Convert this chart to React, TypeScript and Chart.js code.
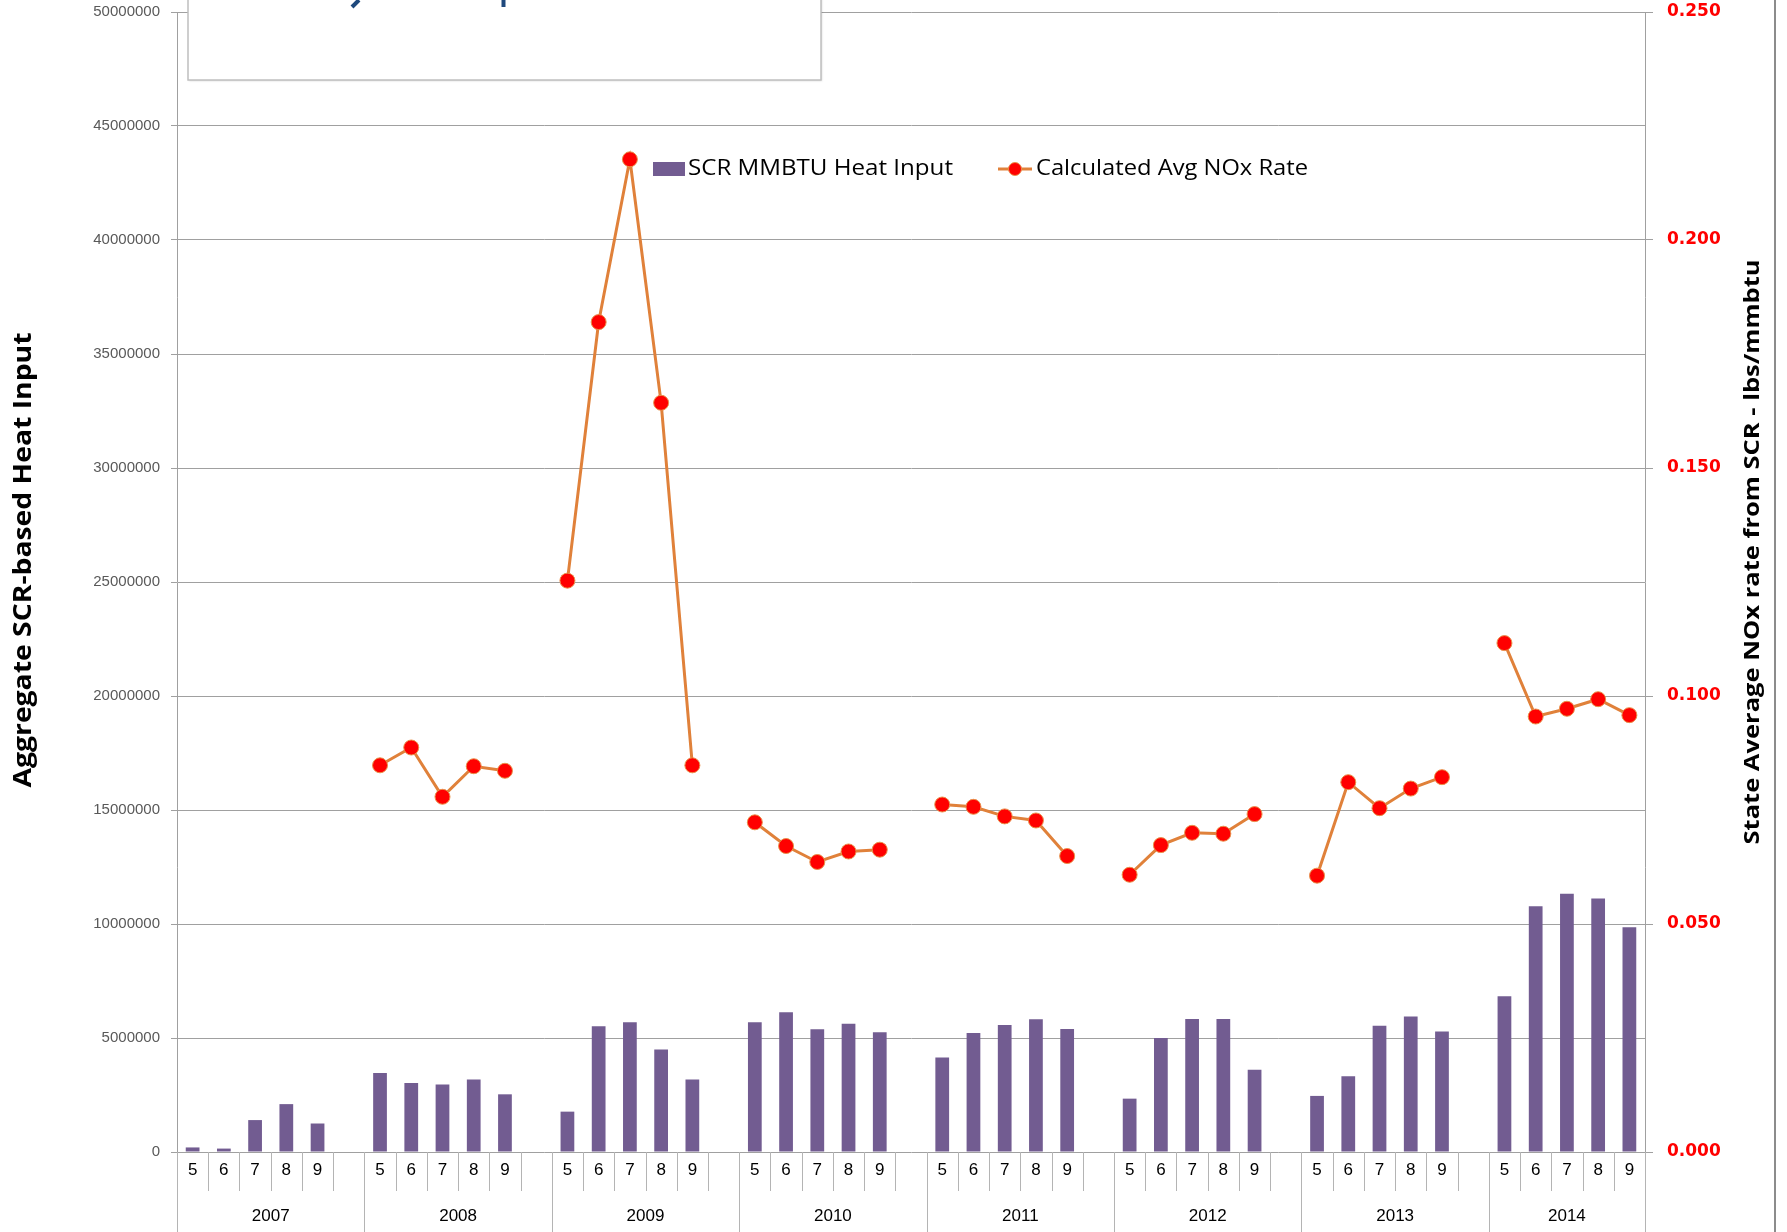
import React, { useEffect, useRef } from "react";
import { Chart, registerables } from "chart.js";

Chart.register(...registerables);

const years = ["2007", "2008", "2009", "2010", "2011", "2012", "2013", "2014"];
const months = ["5", "6", "7", "8", "9"];

const heatInput2007 = [200000, 150000, 1400000, 2100000, 1250000];
const heatInput2008 = [3460000, 3030000, 2960000, 3180000, 2530000];
const heatInput2009 = [1770000, 5510000, 5690000, 4500000, 3180000];
const heatInput2010 = [5690000, 6130000, 5380000, 5620000, 5250000];
const heatInput2011 = [4140000, 5220000, 5570000, 5820000, 5390000];
const heatInput2012 = [2340000, 5000000, 5830000, 5830000, 3610000];
const heatInput2013 = [2460000, 3320000, 5540000, 5940000, 5290000];
const heatInput2014 = [6830000, 10780000, 11330000, 11120000, 9860000];

const nox2007 = [null, null, null, null, null];
const nox2008 = [0.0848, 0.0887, 0.0779, 0.0846, 0.0836];
const nox2009 = [0.1253, 0.182, 0.2177, 0.1643, 0.0848];
const nox2010 = [0.0723, 0.0671, 0.0636, 0.0659, 0.0663];
const nox2011 = [0.0762, 0.0757, 0.0736, 0.0727, 0.0649];
const nox2012 = [0.0608, 0.0673, 0.07, 0.0698, 0.0741];
const nox2013 = [0.0606, 0.0811, 0.0754, 0.0797, 0.0822];
const nox2014 = [0.1116, 0.0955, 0.0972, 0.0993, 0.0958];

const heatByYear = [heatInput2007, heatInput2008, heatInput2009, heatInput2010, heatInput2011, heatInput2012, heatInput2013, heatInput2014];
const noxByYear = [nox2007, nox2008, nox2009, nox2010, nox2011, nox2012, nox2013, nox2014];

const leftTicks = { min: 0, max: 50000000, step: 5000000 };
const rightTicks = { min: 0, max: 0.25, step: 0.05 };

const heatLabel = "SCR MMBTU Heat Input";
const noxLabel = "Calculated Avg NOx Rate";
const leftTitle = "Aggregate SCR-based Heat Input";
const rightTitle = "State Average NOx rate from SCR - lbs/mmbtu";

// Build flat category list: each year = 5 months + 1 blank slot (except last year)
const slotMonth: string[] = [];
const slotYear: number[] = [];
const heatData: (number | null)[] = [];
const noxData: (number | null)[] = [];
years.forEach((y, yi) => {
  months.forEach((m, mi) => {
    slotMonth.push(m);
    slotYear.push(yi);
    heatData.push(heatByYear[yi][mi]);
    noxData.push(noxByYear[yi][mi]);
  });
  if (yi < years.length - 1) {
    slotMonth.push("");
    slotYear.push(yi);
    heatData.push(null);
    noxData.push(null);
  }
});
const labels = slotMonth.map((m, i) => years[slotYear[i]] + "-" + (m || "x") + "-" + i);

const W = 1787;
const H = 1232;

function fitText(ctx: CanvasRenderingContext2D, text: string, x: number, y: number, targetW: number, font: string, color: string, rotate: number) {
  ctx.save();
  ctx.font = font;
  ctx.fillStyle = color;
  ctx.textBaseline = "middle";
  ctx.textAlign = "left";
  const w = ctx.measureText(text).width;
  const s = targetW / w;
  ctx.translate(x, y);
  if (rotate) ctx.rotate(rotate);
  ctx.scale(s, 1);
  ctx.fillText(text, 0, 0);
  ctx.restore();
}

const customPlugin = {
  id: "customDecor",
  afterDraw(chart: any) {
    const ctx: CanvasRenderingContext2D = chart.ctx;
    const area = chart.chartArea;
    const xs = chart.scales.x;
    const n = labels.length;
    const sw = (area.right - area.left) / n;

    ctx.save();
    // category separators
    ctx.strokeStyle = "#B4B4B4";
    ctx.lineWidth = 1;
    for (let k = 0; k <= n; k++) {
      const bx = Math.round(area.left + k * sw) + 0.5;
      const isYear = k === n || k % 6 === 0;
      ctx.beginPath();
      ctx.moveTo(bx, area.bottom);
      ctx.lineTo(bx, isYear ? H : area.bottom + 39);
      ctx.stroke();
    }
    // month labels
    ctx.fillStyle = "#000000";
    ctx.font = "17px 'Liberation Sans', Arial, sans-serif";
    ctx.textAlign = "center";
    ctx.textBaseline = "middle";
    for (let i = 0; i < n; i++) {
      if (!slotMonth[i]) continue;
      ctx.fillText(slotMonth[i], xs.getPixelForValue(i), area.bottom + 18);
    }
    // year labels
    years.forEach((y, yi) => {
      const start = yi * 6;
      const end = Math.min(start + 6, n);
      const cx = area.left + ((start + end) / 2) * sw;
      ctx.fillText(y, cx, area.bottom + 64);
    });

    // outer right border of picture
    ctx.strokeStyle = "#8C8C8C";
    ctx.lineWidth = 2;
    ctx.beginPath();
    ctx.moveTo(1775, 0);
    ctx.lineTo(1775, H);
    ctx.stroke();

    // title box (title cut off at top)
    ctx.fillStyle = "#FFFFFF";
    ctx.shadowColor = "rgba(0,0,0,0.15)";
    ctx.shadowBlur = 2;
    ctx.shadowOffsetX = 1;
    ctx.shadowOffsetY = 1;
    ctx.fillRect(188, -4, 633, 84);
    ctx.shadowColor = "transparent";
    ctx.strokeStyle = "#BFBFBF";
    ctx.lineWidth = 1.5;
    ctx.strokeRect(188, -4, 633, 84);
    // descender fragments of the clipped title
    ctx.strokeStyle = "#1F497D";
    ctx.lineWidth = 4;
    ctx.beginPath();
    ctx.moveTo(359, 0);
    ctx.lineTo(352, 7);
    ctx.stroke();
    ctx.beginPath();
    ctx.moveTo(503.5, 0);
    ctx.lineTo(503.5, 7);
    ctx.stroke();

    // legend
    ctx.fillStyle = "#725C91";
    ctx.fillRect(653, 162, 32, 14);
    fitText(ctx, heatLabel, 688, 169, 265, "22px 'Open Sans', sans-serif", "#000000", 0);
    ctx.strokeStyle = "#E0813A";
    ctx.lineWidth = 3;
    ctx.beginPath();
    ctx.moveTo(998, 169);
    ctx.lineTo(1032, 169);
    ctx.stroke();
    ctx.fillStyle = "#FF0000";
    ctx.strokeStyle = "#E8914A";
    ctx.lineWidth = 1;
    ctx.beginPath();
    ctx.arc(1015, 169, 6.5, 0, Math.PI * 2);
    ctx.fill();
    ctx.stroke();
    fitText(ctx, noxLabel, 1036, 169, 272, "22px 'Open Sans', sans-serif", "#000000", 0);

    // axis titles
    fitText(ctx, leftTitle, 24, 560 + 455 / 2, 455, "bold 25px 'Open Sans', sans-serif", "#000000", -Math.PI / 2);
    fitText(ctx, rightTitle, 1753, 552 + 585 / 2, 585, "bold 22px 'Open Sans', sans-serif", "#000000", -Math.PI / 2);
    ctx.restore();
  },
};

export default function App() {
  const ref = useRef<HTMLCanvasElement | null>(null);
  useEffect(() => {
    if (!ref.current) return;
    const chart = new Chart(ref.current, {
      type: "bar",
      data: {
        labels,
        datasets: [
          {
            type: "line",
            label: noxLabel,
            data: noxData,
            yAxisID: "y1",
            xAxisID: "x",
            borderColor: "#E0813A",
            borderWidth: 3,
            pointRadius: 7.5,
            pointBackgroundColor: "#FF0000",
            pointBorderColor: "#E8914A",
            pointBorderWidth: 1,
            tension: 0,
            spanGaps: false,
            order: 0,
          } as any,
          {
            type: "bar",
            label: heatLabel,
            data: heatData,
            yAxisID: "y",
            xAxisID: "x",
            backgroundColor: "#725C91",
            borderWidth: 0,
            categoryPercentage: 1,
            barPercentage: 0.44,
            order: 1,
          } as any,
        ],
      },
      options: {
        responsive: false,
        animation: false,
        devicePixelRatio: 1,
        layout: { padding: { top: 12, left: 0, right: 0, bottom: 0 } },
        plugins: { legend: { display: false }, tooltip: { enabled: false } },
        scales: {
          x: {
            type: "category",
            offset: true,
            grid: { display: false },
            border: { display: false },
            ticks: { display: false },
            afterFit: (s: any) => {
              s.height = H - 1152;
              s.paddingLeft = 0;
              s.paddingRight = 0;
            },
          },
          y: {
            position: "left",
            min: leftTicks.min,
            max: leftTicks.max,
            ticks: {
              stepSize: leftTicks.step,
              callback: (v: any) => String(v),
              color: "#595959",
              font: { family: "'Liberation Sans', Arial, sans-serif", size: 15 },
              padding: 11,
            },
            grid: { color: "#A0A0A0", lineWidth: 1, tickLength: 6 },
            border: { color: "#A0A0A0" },
            afterFit: (s: any) => {
              s.width = 177;
              s.paddingTop = 0;
              s.paddingBottom = 0;
            },
          },
          y1: {
            position: "right",
            min: rightTicks.min,
            max: rightTicks.max,
            ticks: {
              stepSize: rightTicks.step,
              callback: (v: any) => Number(v).toFixed(3),
              color: "#FF0000",
              font: { family: "'DejaVu Sans', sans-serif", size: 17, weight: "bold" },
              padding: 14,
            },
            grid: { drawOnChartArea: false, color: "#A0A0A0", tickLength: 8 },
            border: { color: "#A0A0A0" },
            afterFit: (s: any) => {
              s.width = W - 1645;
              s.paddingTop = 0;
              s.paddingBottom = 0;
            },
          },
        },
      } as any,
      plugins: [customPlugin],
    });
    return () => chart.destroy();
  }, []);
  return (
    <div style={{ position: "absolute", left: 0, top: 0, width: W, height: H, background: "#fff" }}>
      <canvas ref={ref} width={W} height={H} style={{ width: W, height: H, display: "block" }} />
    </div>
  );
}
